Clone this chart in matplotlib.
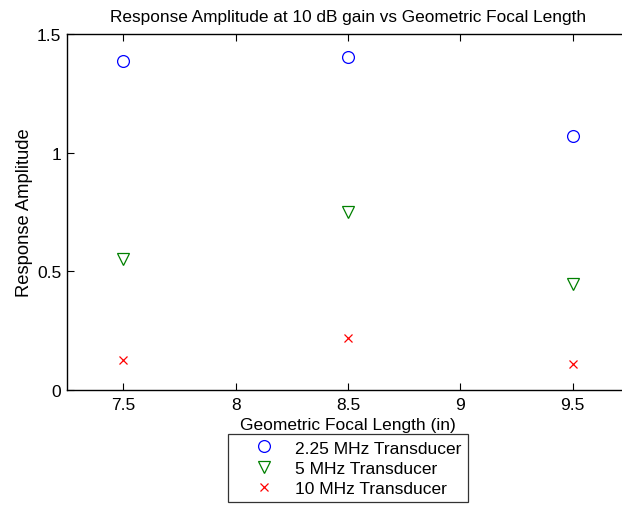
import matplotlib
matplotlib.use("Agg")
import matplotlib.pyplot as plt

plt.rcParams['font.family'] = ['Liberation Sans', 'DejaVu Sans']

# focal lengths (in) and response amplitudes
focal_length = [7.5, 8.5, 9.5]
amp_225mhz = [1.385, 1.402, 1.071]
amp_5mhz = [0.55, 0.752, 0.447]
amp_10mhz = [0.128, 0.218, 0.110]

fig = plt.figure(figsize=(6.22, 5.06), dpi=100)
# the original axes run past the right edge of the image
ax = fig.add_axes([67 / 622, 1 - 391 / 506, (629 - 67) / 622, (391 - 35) / 506])

ax.plot(focal_length, amp_225mhz, 'o', mfc='none', mec='#0000ff', ms=8.5, mew=0.9,
        label='2.25 MHz Transducer')
ax.plot(focal_length, amp_5mhz, 'v', mfc='none', mec='#008000', ms=9, mew=0.9,
        label='5 MHz Transducer')
ax.plot(focal_length, amp_10mhz, 'x', color='#ff0000', ms=6, mew=0.9,
        label='10 MHz Transducer')

ax.set_xlim(7.25, 9.75)
ax.set_ylim(0, 1.5)
ax.set_xticks([7.5, 8, 8.5, 9, 9.5])
ax.set_xticklabels(['7.5', '8', '8.5', '9', '9.5'])
ax.set_yticks([0, 0.5, 1, 1.5])
ax.set_yticklabels(['0', '0.5', '1', '1.5'])
ax.tick_params(direction='in', length=5, width=0.8, labelsize=12.5, top=True, right=False, pad=5)
ax.tick_params(axis='y', pad=4)
ax.spines['right'].set_visible(False)
for s in ax.spines.values():
    s.set_linewidth(1.0)

ax.set_title('Response Amplitude at 10 dB gain vs Geometric Focal Length', fontsize=12.4, pad=9.4)
ax.set_xlabel('Geometric Focal Length (in)', fontsize=12.5, labelpad=3.5)
ax.set_ylabel('Response Amplitude', fontsize=13.2, labelpad=2.7)

leg = ax.legend(loc='upper center', bbox_to_anchor=(0.5, -0.124), fontsize=12.5,
                frameon=True, fancybox=False, edgecolor='black', borderpad=0.36,
                labelspacing=0.29, handlelength=3.4, handletextpad=0.13, borderaxespad=0)
leg.get_frame().set_linewidth(0.9)

fig.savefig('out.png', dpi=100)
